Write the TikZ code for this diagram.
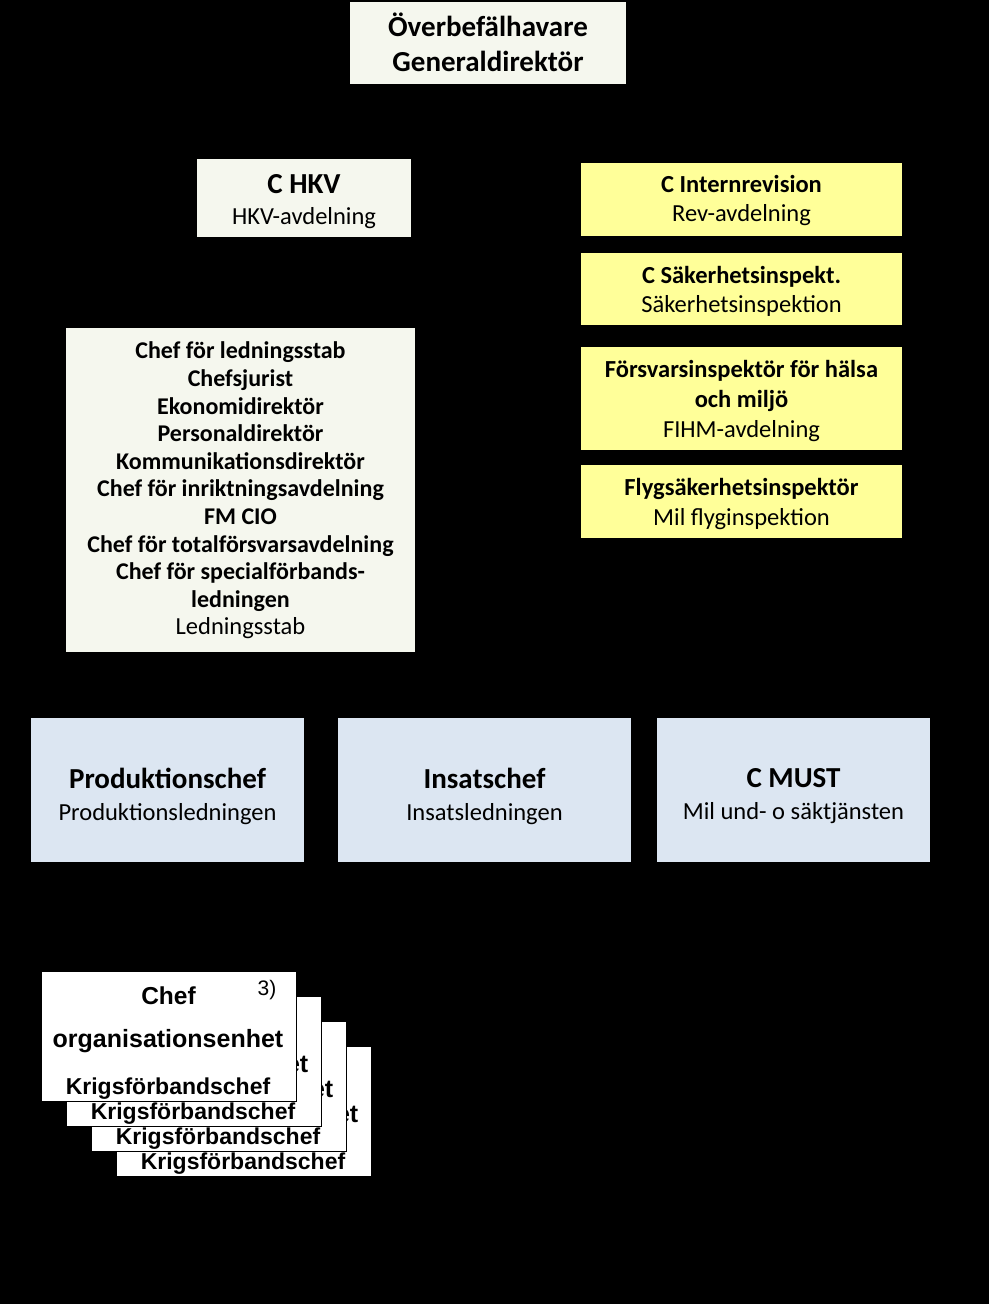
\documentclass[tikz,border=0pt]{standalone}
\usepackage{fontspec}
\setmainfont{Carlito}
\newfontfamily\arialfont{Liberation Sans}
\definecolor{paleg}{HTML}{F5F7EE}
\definecolor{paley}{HTML}{FFFF99}
\definecolor{paleb}{HTML}{DCE6F2}
\newcommand\fsz[2]{\fontsize{#1}{#2}\selectfont}
\newcommand\bigt[1]{{\fontsize{29}{32}\selectfont\bfseries #1}}
\tikzset{
  box/.style={draw=none, inner sep=0pt},
  gbox/.style={box, fill=paleg},
  ybox/.style={box, fill=paley},
  bbox/.style={box, fill=paleb},
  txt/.style={inner sep=0pt, align=center, text=black},
  card/.style={draw=black, line width=0.8pt, fill=white, inner sep=0pt, minimum width=255pt, minimum height=130pt},
  ctext/.style={inner sep=0pt, text=black},
}
\begin{document}
\begin{tikzpicture}[x=1pt,y=-1pt]
\fill[black] (0,0) rectangle (989,1304);
\useasboundingbox (0,0) rectangle (989,1304);

% top
\node[gbox, minimum width=276pt, minimum height=82pt] (obe) at (488,43) {};
\node[txt, font=\fsz{29}{35}\bfseries] (obet) at (488,42) {Överbefälhavare\\Generaldirektör};

% C HKV
\node[gbox, minimum width=214pt, minimum height=78pt] (hkv) at (304,198) {};
\node[txt, font=\fsz{24.5}{31}] (hkvt) at (304,201.5) {\bigt{C HKV}\\HKV-avdelning};

% Ledningsstab
\node[gbox, minimum width=349pt, minimum height=324pt] (ls) at (240.5,490) {};
\node[txt, font=\fsz{24}{27.6}] (lst) at (240.5,490.5)
  {\textbf{Chef för ledningsstab}\\
   \textbf{Chefsjurist}\\
   \textbf{Ekonomidirektör}\\
   \textbf{Personaldirektör}\\
   \textbf{Kommunikationsdirektör}\\
   \textbf{Chef för inriktningsavdelning}\\
   \textbf{FM CIO}\\
   \textbf{Chef för totalförsvarsavdelning}\\
   \textbf{Chef för specialförbands-}\\
   \textbf{ledningen}\\
   {\fontsize{24.5}{29}\selectfont Ledningsstab}};

% yellow
\node[ybox, minimum width=321pt, minimum height=73pt] (rev) at (741.5,199.5) {};
\node[txt, font=\fsz{24.5}{29.5}] (revt) at (741.5,200.5) {\textbf{C Internrevision}\\Rev-avdelning};
\node[ybox, minimum width=321pt, minimum height=72pt] (sak) at (741.5,289) {};
\node[txt, font=\fsz{24.5}{29.5}] (sakt) at (741.5,291.5) {\textbf{C Säkerhetsinspekt.}\\Säkerhetsinspektion};
\node[ybox, minimum width=321pt, minimum height=103pt] (fihm) at (741.5,398.5) {};
\node[txt, font=\fsz{24.5}{30}] (fihmt) at (741.5,401.5) {\textbf{Försvarsinspektör för hälsa}\\\textbf{och miljö}\\FIHM-avdelning};
\node[ybox, minimum width=321pt, minimum height=73pt] (flyg) at (741.5,501.5) {};
\node[txt, font=\fsz{24.5}{30}] (flygt) at (741.5,504.5) {\textbf{Flygsäkerhetsinspektör}\\Mil flyginspektion};

% blue
\node[bbox, minimum width=273pt, minimum height=144pt] (prod) at (167.5,790) {};
\node[txt, font=\fsz{24.5}{32}] (prodt) at (167.5,796) {\bigt{Produktionschef}\\Produktionsledningen};
\node[bbox, minimum width=293pt, minimum height=144pt] (ins) at (484.5,790) {};
\node[txt, font=\fsz{24.5}{32}] (inst) at (484.5,796) {\bigt{Insatschef}\\Insatsledningen};
\node[bbox, minimum width=273pt, minimum height=144pt] (must) at (793.5,790) {};
\node[txt, font=\fsz{24.5}{32}] (mustt) at (793.5,796) {\bigt{C MUST}\\Mil und- o säktjänsten};

% stacked cards (back to front)
\foreach \k in {3,2,1}{
  \pgfmathsetmacro{\o}{25*\k}
  \node[card] (card\k) at (168.5+\o,1036+\o) {};
  \node[ctext, font=\arialfont\bfseries\fsz{25}{28}] (org\k) at (168+\o,1041+\o) {organisationsenhet};
  \node[ctext, font=\arialfont\bfseries\fsz{23}{27}] (krig\k) at (168+\o,1089+\o) {Krigsförbandschef};
}
\node[card] (card0) at (168.5,1036) {};
\node[ctext, font=\arialfont\bfseries\fsz{24.5}{28}] (chef0) at (168.5,996) {Chef};
\node[ctext, font=\arialfont\bfseries\fsz{25}{28}] (org0) at (168,1041) {organisationsenhet};
\node[ctext, font=\arialfont\bfseries\fsz{23}{27}] (krig0) at (168,1089) {Krigsförbandschef};
\node[ctext, font=\arialfont\fsz{21}{25}] (note0) at (267,990) {3)};
\end{tikzpicture}
\end{document}
